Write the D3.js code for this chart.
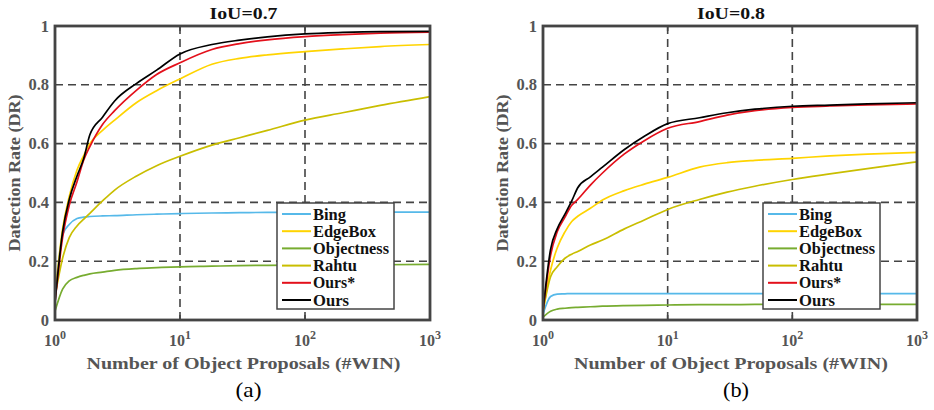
<!DOCTYPE html>
<html><head><meta charset="utf-8">
<script src="https://cdn.jsdelivr.net/npm/d3@7"></script>
<style>body{margin:0;background:#fff}</style>
</head><body>
<svg id="chart" width="934" height="410"></svg>
<script>
const proposals = [1, 1.15, 1.3, 1.5, 1.7, 1.9, 2.4, 3, 4.5, 6.5, 10, 18, 30, 50, 100, 200, 400, 1000];
const seriesNames = ["Bing", "EdgeBox", "Objectness", "Rahtu", "Ours*", "Ours"];
const seriesColors = ["#56B9E9", "#FFD400", "#77AC30", "#C9BE00", "#E3101B", "#000000"];
const panelTitles = ["IoU=0.7", "IoU=0.8"];
const panelCaptions = ["(a)", "(b)"];
const yTicks = [0, 0.2, 0.4, 0.6, 0.8, 1];
const yTickLabels = ["0", "0.2", "0.4", "0.6", "0.8", "1"];
const xTicks = [1, 10, 100, 1000];
const xTickExps = ["0", "1", "2", "3"];

// IoU = 0.7
const bingA       = [0.06,0.29,0.325,0.345,0.35,0.352,0.354,0.355,0.358,0.36,0.362,0.364,0.365,0.366,0.366,0.367,0.367,0.367];
const edgeBoxA    = [0.08,0.31,0.42,0.51,0.56,0.60,0.645,0.68,0.74,0.78,0.82,0.87,0.89,0.902,0.913,0.922,0.93,0.937];
const objectnessA = [0.03,0.105,0.133,0.145,0.152,0.157,0.163,0.169,0.175,0.178,0.181,0.183,0.185,0.186,0.187,0.188,0.188,0.189];
const rahtuA      = [0.08,0.21,0.28,0.32,0.343,0.363,0.405,0.442,0.49,0.525,0.557,0.595,0.62,0.645,0.68,0.705,0.73,0.76];
const oursStarA   = [0.06,0.28,0.39,0.47,0.545,0.59,0.665,0.712,0.782,0.835,0.875,0.92,0.94,0.953,0.964,0.971,0.976,0.979];
const oursA       = [0.06,0.30,0.41,0.49,0.55,0.63,0.69,0.745,0.805,0.85,0.905,0.937,0.952,0.963,0.973,0.978,0.981,0.982];
// IoU = 0.8
const bingB       = [0.02,0.08,0.088,0.089,0.09,0.09,0.09,0.09,0.09,0.09,0.09,0.09,0.09,0.09,0.09,0.09,0.09,0.09];
const edgeBoxB    = [0.03,0.17,0.245,0.30,0.335,0.353,0.38,0.408,0.44,0.462,0.485,0.52,0.535,0.543,0.55,0.558,0.564,0.57];
const objectnessB = [0.01,0.03,0.037,0.04,0.042,0.043,0.045,0.047,0.049,0.05,0.051,0.052,0.052,0.053,0.053,0.053,0.053,0.053];
const rahtuB      = [0.03,0.147,0.181,0.21,0.224,0.233,0.255,0.272,0.31,0.34,0.376,0.41,0.435,0.455,0.478,0.497,0.515,0.538];
const oursStarB   = [0.03,0.22,0.30,0.35,0.39,0.41,0.459,0.50,0.565,0.61,0.652,0.675,0.697,0.712,0.723,0.728,0.732,0.735];
const oursB       = [0.03,0.24,0.31,0.36,0.405,0.45,0.487,0.52,0.58,0.625,0.668,0.688,0.705,0.717,0.727,0.731,0.735,0.739];

const panelSeries = [
  [bingA, edgeBoxA, objectnessA, rahtuA, oursStarA, oursA],
  [bingB, edgeBoxB, objectnessB, rahtuB, oursStarB, oursB]
];

const svg = d3.select("#chart");
const serif = "'Liberation Serif','Times New Roman',serif";
const axisGrey = "#444";
const labelGrey = "#555";
const panels = [{left: 55, right: 430, legendX: 277}, {left: 543, right: 917, legendX: 763}];
const plotTop = 26, plotBottom = 320;
const legendTextWidths = [33, 63, 76, 44, 42, 36];

panels.forEach((p, pi) => {
  const g = svg.append("g");
  const x = d3.scaleLog().domain([1, 1000]).range([p.left, p.right]);
  const y = d3.scaleLinear().domain([0, 1]).range([plotBottom, plotTop]);

  // grid
  g.selectAll(".gy").data(yTicks.filter(t => t > 0 && t < 1)).join("line")
    .attr("x1", p.left).attr("x2", p.right).attr("y1", d => y(d)).attr("y2", d => y(d))
    .attr("stroke", axisGrey).attr("stroke-width", 1.6).attr("stroke-dasharray", "8,5");
  g.selectAll(".gx").data(xTicks.filter(t => t > 1 && t < 1000)).join("line")
    .attr("x1", d => x(d)).attr("x2", d => x(d)).attr("y1", plotTop).attr("y2", plotBottom)
    .attr("stroke", axisGrey).attr("stroke-width", 1.6).attr("stroke-dasharray", "8,5");

  // lines
  const line = d3.line().x(d => x(d[0])).y(d => y(d[1])).curve(d3.curveMonotoneX);
  panelSeries[pi].forEach((vals, si) => {
    g.append("path").datum(proposals.map((n, i) => [n, vals[i]]))
      .attr("d", line).attr("fill", "none")
      .attr("stroke", seriesColors[si]).attr("stroke-width", 1.7);
  });

  // frame
  g.append("rect").attr("x", p.left).attr("y", plotTop).attr("width", p.right - p.left).attr("height", plotBottom - plotTop)
    .attr("fill", "none").attr("stroke", axisGrey).attr("stroke-width", 2.8);
  // small ticks
  xTicks.forEach(t => {
    g.append("line").attr("x1", x(t)).attr("x2", x(t)).attr("y1", plotBottom).attr("y2", plotBottom - 5)
      .attr("stroke", axisGrey).attr("stroke-width", 1.6);
    g.append("line").attr("x1", x(t)).attr("x2", x(t)).attr("y1", plotTop).attr("y2", plotTop + 5)
      .attr("stroke", axisGrey).attr("stroke-width", 1.6);
  });

  // y tick labels
  g.selectAll(".yl").data(yTicks).join("text")
    .attr("x", p.left - 6).attr("y", d => y(d) + 5.5).attr("text-anchor", "end")
    .attr("font-family", serif).attr("font-weight", "bold").attr("font-size", 16.5).attr("fill", labelGrey)
    .text((d, i) => yTickLabels[i]);
  // x tick labels
  xTicks.forEach((t, i) => {
    const tx = g.append("text").attr("x", x(t)).attr("y", 346).attr("text-anchor", "middle")
      .attr("font-family", serif).attr("font-weight", "bold").attr("font-size", 16).attr("fill", labelGrey);
    tx.append("tspan").text("10");
    tx.append("tspan").attr("dy", -7).attr("font-size", 12).text(xTickExps[i]);
  });

  // title
  g.append("text").attr("x", (p.left + p.right) / 2 + 1).attr("y", 19).attr("text-anchor", "middle")
    .attr("font-family", serif).attr("font-weight", "bold").attr("font-size", 16.5).attr("fill", "#111")
    .attr("textLength", 68).attr("lengthAdjust", "spacingAndGlyphs")
    .text(panelTitles[pi]);
  // axis labels
  g.append("text").attr("x", (p.left + p.right) / 2 + 1).attr("y", 369).attr("text-anchor", "middle")
    .attr("font-family", serif).attr("font-weight", "bold").attr("font-size", 17).attr("fill", labelGrey)
    .attr("textLength", 314).attr("lengthAdjust", "spacingAndGlyphs")
    .text("Number of Object Proposals (#WIN)");
  g.append("text").attr("transform", `translate(${p.left - 35},${(plotTop + plotBottom) / 2}) rotate(-90)`)
    .attr("text-anchor", "middle")
    .attr("font-family", serif).attr("font-weight", "bold").attr("font-size", 17).attr("fill", labelGrey)
    .attr("textLength", 157).attr("lengthAdjust", "spacingAndGlyphs")
    .text("Datection Rate (DR)");
  // caption
  g.append("text").attr("x", (p.left + p.right) / 2 + 6).attr("y", 397).attr("text-anchor", "middle")
    .attr("font-family", serif).attr("font-size", 21).attr("fill", "#000")
    .attr("textLength", 26).attr("lengthAdjust", "spacingAndGlyphs")
    .text(panelCaptions[pi]);

  // legend
  const lg = g.append("g").attr("transform", `translate(${p.legendX},203)`);
  lg.append("rect").attr("width", 117).attr("height", 106).attr("fill", "#fff")
    .attr("stroke", axisGrey).attr("stroke-width", 1.5);
  seriesNames.forEach((name, si) => {
    const yy = 11 + si * 17.2;
    lg.append("line").attr("x1", 5).attr("x2", 34).attr("y1", yy).attr("y2", yy)
      .attr("stroke", seriesColors[si]).attr("stroke-width", 2);
    lg.append("text").attr("x", 36).attr("y", yy + 5.5)
      .attr("font-family", serif).attr("font-weight", "bold").attr("font-size", 16).attr("fill", "#111")
      .attr("textLength", legendTextWidths[si]).attr("lengthAdjust", "spacingAndGlyphs")
      .text(name);
  });
});
</script>
</body></html>
